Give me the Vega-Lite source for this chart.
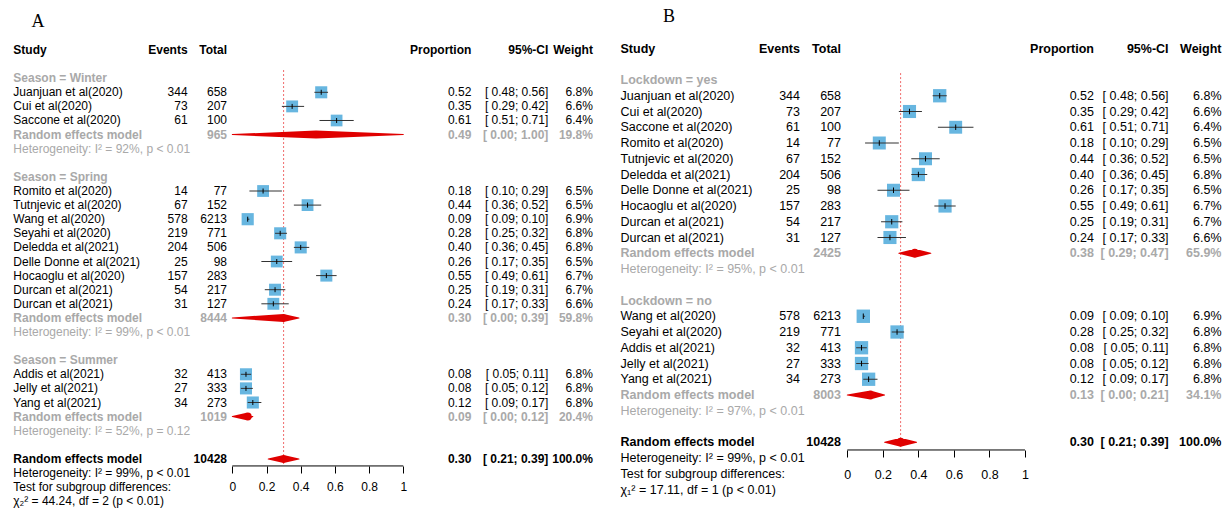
{
"$schema":"https://vega.github.io/schema/vega-lite/v6.json",
"padding":0,"spacing":4,"background":"white",
"config":{"view":{"stroke":null},"axisX":{"domain":false,"grid":false,"ticks":true,"tickSize":7,"tickColor":"#000","tickWidth":1,"labelFont":"Liberation Sans","labelColor":"#000","labelFlush":false,"labelOverlap":false}},
"resolve":{"scale":{"x":"independent","y":"independent","size":"independent","color":"independent"}},
"datasets":{
"A":[
{"row":0,"kind":"header","study":"Study","ev":"Events","tot":"Total","p":"Proportion","ci":"95%-CI","wt":"Weight"},
{"row":2,"kind":"group","study":"Season = Winter"},
{"row":3,"kind":"study","study":"Juanjuan et al(2020)","ev":"344","tot":"658","p":"0.52","ci":"[ 0.48; 0.56]","wt":"6.8%","est":0.52,"lo":0.48,"hi":0.56,"w":6.8},
{"row":4,"kind":"study","study":"Cui et al(2020)","ev":"73","tot":"207","p":"0.35","ci":"[ 0.29; 0.42]","wt":"6.6%","est":0.35,"lo":0.29,"hi":0.42,"w":6.6},
{"row":5,"kind":"study","study":"Saccone et al(2020)","ev":"61","tot":"100","p":"0.61","ci":"[ 0.51; 0.71]","wt":"6.4%","est":0.61,"lo":0.51,"hi":0.71,"w":6.4},
{"row":6,"kind":"sub","study":"Random effects model","tot":"965","p":"0.49","ci":"[ 0.00; 1.00]","wt":"19.8%","est":0.49,"lo":0.0,"hi":1.0},
{"row":7,"kind":"het","study":"Heterogeneity: I² = 92%, p < 0.01"},
{"row":9,"kind":"group","study":"Season = Spring"},
{"row":10,"kind":"study","study":"Romito et al(2020)","ev":"14","tot":"77","p":"0.18","ci":"[ 0.10; 0.29]","wt":"6.5%","est":0.18,"lo":0.10,"hi":0.29,"w":6.5},
{"row":11,"kind":"study","study":"Tutnjevic et al(2020)","ev":"67","tot":"152","p":"0.44","ci":"[ 0.36; 0.52]","wt":"6.5%","est":0.44,"lo":0.36,"hi":0.52,"w":6.5},
{"row":12,"kind":"study","study":"Wang et al(2020)","ev":"578","tot":"6213","p":"0.09","ci":"[ 0.09; 0.10]","wt":"6.9%","est":0.09,"lo":0.09,"hi":0.10,"w":6.9},
{"row":13,"kind":"study","study":"Seyahi et al(2020)","ev":"219","tot":"771","p":"0.28","ci":"[ 0.25; 0.32]","wt":"6.8%","est":0.28,"lo":0.25,"hi":0.32,"w":6.8},
{"row":14,"kind":"study","study":"Deledda et al(2021)","ev":"204","tot":"506","p":"0.40","ci":"[ 0.36; 0.45]","wt":"6.8%","est":0.40,"lo":0.36,"hi":0.45,"w":6.8},
{"row":15,"kind":"study","study":"Delle Donne et al(2021)","ev":"25","tot":"98","p":"0.26","ci":"[ 0.17; 0.35]","wt":"6.5%","est":0.26,"lo":0.17,"hi":0.35,"w":6.5},
{"row":16,"kind":"study","study":"Hocaoglu et al(2020)","ev":"157","tot":"283","p":"0.55","ci":"[ 0.49; 0.61]","wt":"6.7%","est":0.55,"lo":0.49,"hi":0.61,"w":6.7},
{"row":17,"kind":"study","study":"Durcan et al(2021)","ev":"54","tot":"217","p":"0.25","ci":"[ 0.19; 0.31]","wt":"6.7%","est":0.25,"lo":0.19,"hi":0.31,"w":6.7},
{"row":18,"kind":"study","study":"Durcan et al(2021)","ev":"31","tot":"127","p":"0.24","ci":"[ 0.17; 0.33]","wt":"6.6%","est":0.24,"lo":0.17,"hi":0.33,"w":6.6},
{"row":19,"kind":"sub","study":"Random effects model","tot":"8444","p":"0.30","ci":"[ 0.00; 0.39]","wt":"59.8%","est":0.30,"lo":0.0,"hi":0.39},
{"row":20,"kind":"het","study":"Heterogeneity: I² = 99%, p < 0.01"},
{"row":22,"kind":"group","study":"Season = Summer"},
{"row":23,"kind":"study","study":"Addis et al(2021)","ev":"32","tot":"413","p":"0.08","ci":"[ 0.05; 0.11]","wt":"6.8%","est":0.08,"lo":0.05,"hi":0.11,"w":6.8},
{"row":24,"kind":"study","study":"Jelly et al(2021)","ev":"27","tot":"333","p":"0.08","ci":"[ 0.05; 0.12]","wt":"6.8%","est":0.08,"lo":0.05,"hi":0.12,"w":6.8},
{"row":25,"kind":"study","study":"Yang et al(2021)","ev":"34","tot":"273","p":"0.12","ci":"[ 0.09; 0.17]","wt":"6.8%","est":0.12,"lo":0.09,"hi":0.17,"w":6.8},
{"row":26,"kind":"sub","study":"Random effects model","tot":"1019","p":"0.09","ci":"[ 0.00; 0.12]","wt":"20.4%","est":0.09,"lo":0.0,"hi":0.12},
{"row":27,"kind":"het","study":"Heterogeneity: I² = 52%, p = 0.12"},
{"row":29,"kind":"overall","study":"Random effects model","tot":"10428","p":"0.30","ci":"[ 0.21; 0.39]","wt":"100.0%","est":0.30,"lo":0.21,"hi":0.39},
{"row":30,"kind":"note","study":"Heterogeneity: I² = 99%, p < 0.01"},
{"row":31,"kind":"note","study":"Test for subgroup differences:"},
{"row":32,"kind":"note","study":"χ₂² = 44.24, df = 2 (p < 0.01)"}
],
"B":[
{"row":0,"kind":"header","study":"Study","ev":"Events","tot":"Total","p":"Proportion","ci":"95%-CI","wt":"Weight"},
{"row":2,"kind":"group","study":"Lockdown = yes"},
{"row":3,"kind":"study","study":"Juanjuan et al(2020)","ev":"344","tot":"658","p":"0.52","ci":"[ 0.48; 0.56]","wt":"6.8%","est":0.52,"lo":0.48,"hi":0.56,"w":6.8},
{"row":4,"kind":"study","study":"Cui et al(2020)","ev":"73","tot":"207","p":"0.35","ci":"[ 0.29; 0.42]","wt":"6.6%","est":0.35,"lo":0.29,"hi":0.42,"w":6.6},
{"row":5,"kind":"study","study":"Saccone et al(2020)","ev":"61","tot":"100","p":"0.61","ci":"[ 0.51; 0.71]","wt":"6.4%","est":0.61,"lo":0.51,"hi":0.71,"w":6.4},
{"row":6,"kind":"study","study":"Romito et al(2020)","ev":"14","tot":"77","p":"0.18","ci":"[ 0.10; 0.29]","wt":"6.5%","est":0.18,"lo":0.10,"hi":0.29,"w":6.5},
{"row":7,"kind":"study","study":"Tutnjevic et al(2020)","ev":"67","tot":"152","p":"0.44","ci":"[ 0.36; 0.52]","wt":"6.5%","est":0.44,"lo":0.36,"hi":0.52,"w":6.5},
{"row":8,"kind":"study","study":"Deledda et al(2021)","ev":"204","tot":"506","p":"0.40","ci":"[ 0.36; 0.45]","wt":"6.8%","est":0.40,"lo":0.36,"hi":0.45,"w":6.8},
{"row":9,"kind":"study","study":"Delle Donne et al(2021)","ev":"25","tot":"98","p":"0.26","ci":"[ 0.17; 0.35]","wt":"6.5%","est":0.26,"lo":0.17,"hi":0.35,"w":6.5},
{"row":10,"kind":"study","study":"Hocaoglu et al(2020)","ev":"157","tot":"283","p":"0.55","ci":"[ 0.49; 0.61]","wt":"6.7%","est":0.55,"lo":0.49,"hi":0.61,"w":6.7},
{"row":11,"kind":"study","study":"Durcan et al(2021)","ev":"54","tot":"217","p":"0.25","ci":"[ 0.19; 0.31]","wt":"6.7%","est":0.25,"lo":0.19,"hi":0.31,"w":6.7},
{"row":12,"kind":"study","study":"Durcan et al(2021)","ev":"31","tot":"127","p":"0.24","ci":"[ 0.17; 0.33]","wt":"6.6%","est":0.24,"lo":0.17,"hi":0.33,"w":6.6},
{"row":13,"kind":"sub","study":"Random effects model","tot":"2425","p":"0.38","ci":"[ 0.29; 0.47]","wt":"65.9%","est":0.38,"lo":0.29,"hi":0.47},
{"row":14,"kind":"het","study":"Heterogeneity: I² = 95%, p < 0.01"},
{"row":16,"kind":"group","study":"Lockdown = no"},
{"row":17,"kind":"study","study":"Wang et al(2020)","ev":"578","tot":"6213","p":"0.09","ci":"[ 0.09; 0.10]","wt":"6.9%","est":0.09,"lo":0.09,"hi":0.10,"w":6.9},
{"row":18,"kind":"study","study":"Seyahi et al(2020)","ev":"219","tot":"771","p":"0.28","ci":"[ 0.25; 0.32]","wt":"6.8%","est":0.28,"lo":0.25,"hi":0.32,"w":6.8},
{"row":19,"kind":"study","study":"Addis et al(2021)","ev":"32","tot":"413","p":"0.08","ci":"[ 0.05; 0.11]","wt":"6.8%","est":0.08,"lo":0.05,"hi":0.11,"w":6.8},
{"row":20,"kind":"study","study":"Jelly et al(2021)","ev":"27","tot":"333","p":"0.08","ci":"[ 0.05; 0.12]","wt":"6.8%","est":0.08,"lo":0.05,"hi":0.12,"w":6.8},
{"row":21,"kind":"study","study":"Yang et al(2021)","ev":"34","tot":"273","p":"0.12","ci":"[ 0.09; 0.17]","wt":"6.8%","est":0.12,"lo":0.09,"hi":0.17,"w":6.8},
{"row":22,"kind":"sub","study":"Random effects model","tot":"8003","p":"0.13","ci":"[ 0.00; 0.21]","wt":"34.1%","est":0.13,"lo":0.0,"hi":0.21},
{"row":23,"kind":"het","study":"Heterogeneity: I² = 97%, p < 0.01"},
{"row":25,"kind":"overall","study":"Random effects model","tot":"10428","p":"0.30","ci":"[ 0.21; 0.39]","wt":"100.0%","est":0.30,"lo":0.21,"hi":0.39},
{"row":26,"kind":"note","study":"Heterogeneity: I² = 99%, p < 0.01"},
{"row":27,"kind":"note","study":"Test for subgroup differences:"},
{"row":28,"kind":"note","study":"χ₁² = 17.11, df = 1 (p < 0.01)"}
]},
"hconcat":[
{"width":606,"height":509,"data":{"name":"A"},
"resolve":{"scale":{"size":"independent"}},
"layer":[
{"data":{"values":[{}]},"mark":{"type":"rule","color":"#f06a6a","strokeDash":[2,2],"strokeWidth":1},
 "encoding":{"x":{"datum":0.3,"type":"quantitative","scale":{"domain":[-1.3585,2.1854],"nice":false,"zero":false},"axis":{"title":null,"values":[0,0.2,0.4,0.6,0.8,1],"format":"~g","offset":-43,"labelPadding":8,"labelFontSize":12}},
  "y":{"datum":1.42,"type":"quantitative","scale":{"domain":[-3.546,32.553],"reverse":true,"nice":false,"zero":false},"axis":null},
  "y2":{"datum":29.5}}},
{"transform":[{"filter":"datum.kind=='study'"}],"mark":{"type":"point","shape":"square","filled":true,"color":"#67b6e0","opacity":1},
 "encoding":{"x":{"field":"est","type":"quantitative","scale":{"domain":[-1.3585,2.1854],"nice":false,"zero":false},"axis":{"title":null,"values":[0,0.2,0.4,0.6,0.8,1],"format":"~g","offset":-43,"labelPadding":8,"labelFontSize":12}},
  "y":{"field":"row","type":"quantitative","scale":{"domain":[-3.546,32.553],"reverse":true,"nice":false,"zero":false},"axis":null},
  "size":{"field":"w","type":"quantitative","scale":{"domain":[0,7],"range":[0,150]},"legend":null}}},
{"data":{"values":[{}]},"mark":{"type":"rule","color":"#000","strokeWidth":1},
 "encoding":{"x":{"datum":0,"type":"quantitative","scale":{"domain":[-1.3585,2.1854],"nice":false,"zero":false},"axis":{"title":null,"values":[0,0.2,0.4,0.6,0.8,1],"format":"~g","offset":-43,"labelPadding":8,"labelFontSize":12}},"x2":{"datum":1},
  "y":{"datum":29.5,"type":"quantitative","scale":{"domain":[-3.546,32.553],"reverse":true,"nice":false,"zero":false},"axis":null}}},
{"transform":[{"filter":"datum.kind=='study'"}],"mark":{"type":"rule","color":"#333","strokeWidth":1},
 "encoding":{"x":{"field":"lo","type":"quantitative","scale":{"domain":[-1.3585,2.1854],"nice":false,"zero":false},"axis":{"title":null,"values":[0,0.2,0.4,0.6,0.8,1],"format":"~g","offset":-43,"labelPadding":8,"labelFontSize":12}},"x2":{"field":"hi"},
  "y":{"field":"row","type":"quantitative","scale":{"domain":[-3.546,32.553],"reverse":true,"nice":false,"zero":false},"axis":null}}},
{"transform":[{"filter":"datum.kind=='study'"}],"mark":{"type":"point","shape":"M0,-1L0,1","filled":false,"color":"#000","strokeWidth":1,"size":25,"opacity":1},
 "encoding":{"x":{"field":"est","type":"quantitative","scale":{"domain":[-1.3585,2.1854],"nice":false,"zero":false},"axis":{"title":null,"values":[0,0.2,0.4,0.6,0.8,1],"format":"~g","offset":-43,"labelPadding":8,"labelFontSize":12}},
  "y":{"field":"row","type":"quantitative","scale":{"domain":[-3.546,32.553],"reverse":true,"nice":false,"zero":false},"axis":null}}},
{"transform":[{"filter":"datum.kind=='sub' || datum.kind=='overall'"},{"fold":["lo","est","hi"]}],"mark":{"type":"trail","color":"#e00000"},
 "encoding":{"x":{"field":"value","type":"quantitative","scale":{"domain":[-1.3585,2.1854],"nice":false,"zero":false},"axis":{"title":null,"values":[0,0.2,0.4,0.6,0.8,1],"format":"~g","offset":-43,"labelPadding":8,"labelFontSize":12}},
  "y":{"field":"row","type":"quantitative","scale":{"domain":[-3.546,32.553],"reverse":true,"nice":false,"zero":false},"axis":null},
  "size":{"field":"key","type":"ordinal","scale":{"type":"ordinal","domain":["lo","est","hi"],"range":[0,8,0]},"legend":null},
  "detail":{"field":"row","type":"nominal"}}},
{"data":{"values":[{"t":"A"}]},"mark":{"type":"text","font":"Liberation Serif","fontSize":18,"align":"center","baseline":"middle","color":"#000"},
 "encoding":{"x":{"datum":-1.137,"type":"quantitative","scale":{"domain":[-1.3585,2.1854],"nice":false,"zero":false},"axis":{"title":null,"values":[0,0.2,0.4,0.6,0.8,1],"format":"~g","offset":-43,"labelPadding":8,"labelFontSize":12}},
  "y":{"datum":-2,"type":"quantitative","scale":{"domain":[-3.546,32.553],"reverse":true,"nice":false,"zero":false},"axis":null},"text":{"field":"t"}}},
{"transform":[{"filter":"isValid(datum.study) && indexof(['header','group','sub','overall'],datum.kind)>=0"}],"mark":{"type":"text","align":"left","baseline":"middle","font":"Liberation Sans","fontSize":12,"fontWeight":"bold"},
 "encoding":{"x":{"datum":-1.2807,"type":"quantitative","scale":{"domain":[-1.3585,2.1854],"nice":false,"zero":false},"axis":{"title":null,"values":[0,0.2,0.4,0.6,0.8,1],"format":"~g","offset":-43,"labelPadding":8,"labelFontSize":12}},"y":{"field":"row","type":"quantitative","scale":{"domain":[-3.546,32.553],"reverse":true,"nice":false,"zero":false},"axis":null},"text":{"field":"study"},"color":{"field":"kind","type":"nominal","scale":{"domain":["header","group","study","sub","het","overall","note"],"range":["#000000","#a9a9a9","#000000","#a9a9a9","#a9a9a9","#000000","#000000"]},"legend":null}}},
{"transform":[{"filter":"isValid(datum.study) && indexof(['study','het','note'],datum.kind)>=0"}],"mark":{"type":"text","align":"left","baseline":"middle","font":"Liberation Sans","fontSize":12},
 "encoding":{"x":{"datum":-1.2807,"type":"quantitative","scale":{"domain":[-1.3585,2.1854],"nice":false,"zero":false},"axis":{"title":null,"values":[0,0.2,0.4,0.6,0.8,1],"format":"~g","offset":-43,"labelPadding":8,"labelFontSize":12}},"y":{"field":"row","type":"quantitative","scale":{"domain":[-3.546,32.553],"reverse":true,"nice":false,"zero":false},"axis":null},"text":{"field":"study"},"color":{"field":"kind","type":"nominal","scale":{"domain":["header","group","study","sub","het","overall","note"],"range":["#000000","#a9a9a9","#000000","#a9a9a9","#a9a9a9","#000000","#000000"]},"legend":null}}},
{"transform":[{"filter":"isValid(datum.ev) && indexof(['header','group','sub','overall'],datum.kind)>=0"}],"mark":{"type":"text","align":"right","baseline":"middle","font":"Liberation Sans","fontSize":12,"fontWeight":"bold"},
 "encoding":{"x":{"datum":-0.2614,"type":"quantitative","scale":{"domain":[-1.3585,2.1854],"nice":false,"zero":false},"axis":{"title":null,"values":[0,0.2,0.4,0.6,0.8,1],"format":"~g","offset":-43,"labelPadding":8,"labelFontSize":12}},"y":{"field":"row","type":"quantitative","scale":{"domain":[-3.546,32.553],"reverse":true,"nice":false,"zero":false},"axis":null},"text":{"field":"ev"},"color":{"field":"kind","type":"nominal","scale":{"domain":["header","group","study","sub","het","overall","note"],"range":["#000000","#a9a9a9","#000000","#a9a9a9","#a9a9a9","#000000","#000000"]},"legend":null}}},
{"transform":[{"filter":"isValid(datum.ev) && indexof(['study','het','note'],datum.kind)>=0"}],"mark":{"type":"text","align":"right","baseline":"middle","font":"Liberation Sans","fontSize":12},
 "encoding":{"x":{"datum":-0.2614,"type":"quantitative","scale":{"domain":[-1.3585,2.1854],"nice":false,"zero":false},"axis":{"title":null,"values":[0,0.2,0.4,0.6,0.8,1],"format":"~g","offset":-43,"labelPadding":8,"labelFontSize":12}},"y":{"field":"row","type":"quantitative","scale":{"domain":[-3.546,32.553],"reverse":true,"nice":false,"zero":false},"axis":null},"text":{"field":"ev"},"color":{"field":"kind","type":"nominal","scale":{"domain":["header","group","study","sub","het","overall","note"],"range":["#000000","#a9a9a9","#000000","#a9a9a9","#a9a9a9","#000000","#000000"]},"legend":null}}},
{"transform":[{"filter":"isValid(datum.tot) && indexof(['header','group','sub','overall'],datum.kind)>=0"}],"mark":{"type":"text","align":"right","baseline":"middle","font":"Liberation Sans","fontSize":12,"fontWeight":"bold"},
 "encoding":{"x":{"datum":-0.031,"type":"quantitative","scale":{"domain":[-1.3585,2.1854],"nice":false,"zero":false},"axis":{"title":null,"values":[0,0.2,0.4,0.6,0.8,1],"format":"~g","offset":-43,"labelPadding":8,"labelFontSize":12}},"y":{"field":"row","type":"quantitative","scale":{"domain":[-3.546,32.553],"reverse":true,"nice":false,"zero":false},"axis":null},"text":{"field":"tot"},"color":{"field":"kind","type":"nominal","scale":{"domain":["header","group","study","sub","het","overall","note"],"range":["#000000","#a9a9a9","#000000","#a9a9a9","#a9a9a9","#000000","#000000"]},"legend":null}}},
{"transform":[{"filter":"isValid(datum.tot) && indexof(['study','het','note'],datum.kind)>=0"}],"mark":{"type":"text","align":"right","baseline":"middle","font":"Liberation Sans","fontSize":12},
 "encoding":{"x":{"datum":-0.031,"type":"quantitative","scale":{"domain":[-1.3585,2.1854],"nice":false,"zero":false},"axis":{"title":null,"values":[0,0.2,0.4,0.6,0.8,1],"format":"~g","offset":-43,"labelPadding":8,"labelFontSize":12}},"y":{"field":"row","type":"quantitative","scale":{"domain":[-3.546,32.553],"reverse":true,"nice":false,"zero":false},"axis":null},"text":{"field":"tot"},"color":{"field":"kind","type":"nominal","scale":{"domain":["header","group","study","sub","het","overall","note"],"range":["#000000","#a9a9a9","#000000","#a9a9a9","#a9a9a9","#000000","#000000"]},"legend":null}}},
{"transform":[{"filter":"isValid(datum.p) && indexof(['header','group','sub','overall'],datum.kind)>=0"}],"mark":{"type":"text","align":"right","baseline":"middle","font":"Liberation Sans","fontSize":12,"fontWeight":"bold"},
 "encoding":{"x":{"datum":1.3977,"type":"quantitative","scale":{"domain":[-1.3585,2.1854],"nice":false,"zero":false},"axis":{"title":null,"values":[0,0.2,0.4,0.6,0.8,1],"format":"~g","offset":-43,"labelPadding":8,"labelFontSize":12}},"y":{"field":"row","type":"quantitative","scale":{"domain":[-3.546,32.553],"reverse":true,"nice":false,"zero":false},"axis":null},"text":{"field":"p"},"color":{"field":"kind","type":"nominal","scale":{"domain":["header","group","study","sub","het","overall","note"],"range":["#000000","#a9a9a9","#000000","#a9a9a9","#a9a9a9","#000000","#000000"]},"legend":null}}},
{"transform":[{"filter":"isValid(datum.p) && indexof(['study','het','note'],datum.kind)>=0"}],"mark":{"type":"text","align":"right","baseline":"middle","font":"Liberation Sans","fontSize":12},
 "encoding":{"x":{"datum":1.3977,"type":"quantitative","scale":{"domain":[-1.3585,2.1854],"nice":false,"zero":false},"axis":{"title":null,"values":[0,0.2,0.4,0.6,0.8,1],"format":"~g","offset":-43,"labelPadding":8,"labelFontSize":12}},"y":{"field":"row","type":"quantitative","scale":{"domain":[-3.546,32.553],"reverse":true,"nice":false,"zero":false},"axis":null},"text":{"field":"p"},"color":{"field":"kind","type":"nominal","scale":{"domain":["header","group","study","sub","het","overall","note"],"range":["#000000","#a9a9a9","#000000","#a9a9a9","#a9a9a9","#000000","#000000"]},"legend":null}}},
{"transform":[{"filter":"isValid(datum.ci) && indexof(['header','group','sub','overall'],datum.kind)>=0"}],"mark":{"type":"text","align":"right","baseline":"middle","font":"Liberation Sans","fontSize":12,"fontWeight":"bold"},
 "encoding":{"x":{"datum":1.848,"type":"quantitative","scale":{"domain":[-1.3585,2.1854],"nice":false,"zero":false},"axis":{"title":null,"values":[0,0.2,0.4,0.6,0.8,1],"format":"~g","offset":-43,"labelPadding":8,"labelFontSize":12}},"y":{"field":"row","type":"quantitative","scale":{"domain":[-3.546,32.553],"reverse":true,"nice":false,"zero":false},"axis":null},"text":{"field":"ci"},"color":{"field":"kind","type":"nominal","scale":{"domain":["header","group","study","sub","het","overall","note"],"range":["#000000","#a9a9a9","#000000","#a9a9a9","#a9a9a9","#000000","#000000"]},"legend":null}}},
{"transform":[{"filter":"isValid(datum.ci) && indexof(['study','het','note'],datum.kind)>=0"}],"mark":{"type":"text","align":"right","baseline":"middle","font":"Liberation Sans","fontSize":12},
 "encoding":{"x":{"datum":1.848,"type":"quantitative","scale":{"domain":[-1.3585,2.1854],"nice":false,"zero":false},"axis":{"title":null,"values":[0,0.2,0.4,0.6,0.8,1],"format":"~g","offset":-43,"labelPadding":8,"labelFontSize":12}},"y":{"field":"row","type":"quantitative","scale":{"domain":[-3.546,32.553],"reverse":true,"nice":false,"zero":false},"axis":null},"text":{"field":"ci"},"color":{"field":"kind","type":"nominal","scale":{"domain":["header","group","study","sub","het","overall","note"],"range":["#000000","#a9a9a9","#000000","#a9a9a9","#a9a9a9","#000000","#000000"]},"legend":null}}},
{"transform":[{"filter":"isValid(datum.wt) && indexof(['header','group','sub','overall'],datum.kind)>=0"}],"mark":{"type":"text","align":"right","baseline":"middle","font":"Liberation Sans","fontSize":12,"fontWeight":"bold"},
 "encoding":{"x":{"datum":2.109,"type":"quantitative","scale":{"domain":[-1.3585,2.1854],"nice":false,"zero":false},"axis":{"title":null,"values":[0,0.2,0.4,0.6,0.8,1],"format":"~g","offset":-43,"labelPadding":8,"labelFontSize":12}},"y":{"field":"row","type":"quantitative","scale":{"domain":[-3.546,32.553],"reverse":true,"nice":false,"zero":false},"axis":null},"text":{"field":"wt"},"color":{"field":"kind","type":"nominal","scale":{"domain":["header","group","study","sub","het","overall","note"],"range":["#000000","#a9a9a9","#000000","#a9a9a9","#a9a9a9","#000000","#000000"]},"legend":null}}},
{"transform":[{"filter":"isValid(datum.wt) && indexof(['study','het','note'],datum.kind)>=0"}],"mark":{"type":"text","align":"right","baseline":"middle","font":"Liberation Sans","fontSize":12},
 "encoding":{"x":{"datum":2.109,"type":"quantitative","scale":{"domain":[-1.3585,2.1854],"nice":false,"zero":false},"axis":{"title":null,"values":[0,0.2,0.4,0.6,0.8,1],"format":"~g","offset":-43,"labelPadding":8,"labelFontSize":12}},"y":{"field":"row","type":"quantitative","scale":{"domain":[-3.546,32.553],"reverse":true,"nice":false,"zero":false},"axis":null},"text":{"field":"wt"},"color":{"field":"kind","type":"nominal","scale":{"domain":["header","group","study","sub","het","overall","note"],"range":["#000000","#a9a9a9","#000000","#a9a9a9","#a9a9a9","#000000","#000000"]},"legend":null}}}
]},
{"width":615,"height":509,"data":{"name":"B"},
"resolve":{"scale":{"size":"independent"}},
"layer":[
{"data":{"values":[{}]},"mark":{"type":"rule","color":"#f06a6a","strokeDash":[2,2],"strokeWidth":1},
 "encoding":{"x":{"datum":0.3,"type":"quantitative","scale":{"domain":[-1.3354,2.1255],"nice":false,"zero":false},"axis":{"title":null,"values":[0,0.2,0.4,0.6,0.8,1],"format":"~g","offset":-59,"labelPadding":11,"labelFontSize":12.5}},
  "y":{"datum":1.56,"type":"quantitative","scale":{"domain":[-3.0794,29.238],"reverse":true,"nice":false,"zero":false},"axis":null},
  "y2":{"datum":25.49}}},
{"transform":[{"filter":"datum.kind=='study'"}],"mark":{"type":"point","shape":"square","filled":true,"color":"#67b6e0","opacity":1},
 "encoding":{"x":{"field":"est","type":"quantitative","scale":{"domain":[-1.3354,2.1255],"nice":false,"zero":false},"axis":{"title":null,"values":[0,0.2,0.4,0.6,0.8,1],"format":"~g","offset":-59,"labelPadding":11,"labelFontSize":12.5}},
  "y":{"field":"row","type":"quantitative","scale":{"domain":[-3.0794,29.238],"reverse":true,"nice":false,"zero":false},"axis":null},
  "size":{"field":"w","type":"quantitative","scale":{"domain":[0,7],"range":[0,182]},"legend":null}}},
{"data":{"values":[{}]},"mark":{"type":"rule","color":"#000","strokeWidth":1},
 "encoding":{"x":{"datum":0,"type":"quantitative","scale":{"domain":[-1.3354,2.1255],"nice":false,"zero":false},"axis":{"title":null,"values":[0,0.2,0.4,0.6,0.8,1],"format":"~g","offset":-59,"labelPadding":11,"labelFontSize":12.5}},"x2":{"datum":1},
  "y":{"datum":25.49,"type":"quantitative","scale":{"domain":[-3.0794,29.238],"reverse":true,"nice":false,"zero":false},"axis":null}}},
{"transform":[{"filter":"datum.kind=='study'"}],"mark":{"type":"rule","color":"#333","strokeWidth":1},
 "encoding":{"x":{"field":"lo","type":"quantitative","scale":{"domain":[-1.3354,2.1255],"nice":false,"zero":false},"axis":{"title":null,"values":[0,0.2,0.4,0.6,0.8,1],"format":"~g","offset":-59,"labelPadding":11,"labelFontSize":12.5}},"x2":{"field":"hi"},
  "y":{"field":"row","type":"quantitative","scale":{"domain":[-3.0794,29.238],"reverse":true,"nice":false,"zero":false},"axis":null}}},
{"transform":[{"filter":"datum.kind=='study'"}],"mark":{"type":"point","shape":"M0,-1L0,1","filled":false,"color":"#000","strokeWidth":1,"size":30,"opacity":1},
 "encoding":{"x":{"field":"est","type":"quantitative","scale":{"domain":[-1.3354,2.1255],"nice":false,"zero":false},"axis":{"title":null,"values":[0,0.2,0.4,0.6,0.8,1],"format":"~g","offset":-59,"labelPadding":11,"labelFontSize":12.5}},
  "y":{"field":"row","type":"quantitative","scale":{"domain":[-3.0794,29.238],"reverse":true,"nice":false,"zero":false},"axis":null}}},
{"transform":[{"filter":"datum.kind=='sub' || datum.kind=='overall'"},{"fold":["lo","est","hi"]}],"mark":{"type":"trail","color":"#e00000"},
 "encoding":{"x":{"field":"value","type":"quantitative","scale":{"domain":[-1.3354,2.1255],"nice":false,"zero":false},"axis":{"title":null,"values":[0,0.2,0.4,0.6,0.8,1],"format":"~g","offset":-59,"labelPadding":11,"labelFontSize":12.5}},
  "y":{"field":"row","type":"quantitative","scale":{"domain":[-3.0794,29.238],"reverse":true,"nice":false,"zero":false},"axis":null},
  "size":{"field":"key","type":"ordinal","scale":{"type":"ordinal","domain":["lo","est","hi"],"range":[0,9,0]},"legend":null},
  "detail":{"field":"row","type":"nominal"}}},
{"data":{"values":[{"t":"B"}]},"mark":{"type":"text","font":"Liberation Serif","fontSize":18,"align":"center","baseline":"middle","color":"#000"},
 "encoding":{"x":{"datum":-1.0034,"type":"quantitative","scale":{"domain":[-1.3354,2.1255],"nice":false,"zero":false},"axis":{"title":null,"values":[0,0.2,0.4,0.6,0.8,1],"format":"~g","offset":-59,"labelPadding":11,"labelFontSize":12.5}},
  "y":{"datum":-2,"type":"quantitative","scale":{"domain":[-3.0794,29.238],"reverse":true,"nice":false,"zero":false},"axis":null},"text":{"field":"t"}}},
{"transform":[{"filter":"isValid(datum.study) && indexof(['header','group','sub','overall'],datum.kind)>=0"}],"mark":{"type":"text","align":"left","baseline":"middle","font":"Liberation Sans","fontSize":12.5,"fontWeight":"bold"},
 "encoding":{"x":{"datum":-1.2763,"type":"quantitative","scale":{"domain":[-1.3354,2.1255],"nice":false,"zero":false},"axis":{"title":null,"values":[0,0.2,0.4,0.6,0.8,1],"format":"~g","offset":-59,"labelPadding":11,"labelFontSize":12.5}},"y":{"field":"row","type":"quantitative","scale":{"domain":[-3.0794,29.238],"reverse":true,"nice":false,"zero":false},"axis":null},"text":{"field":"study"},"color":{"field":"kind","type":"nominal","scale":{"domain":["header","group","study","sub","het","overall","note"],"range":["#000000","#a9a9a9","#000000","#a9a9a9","#a9a9a9","#000000","#000000"]},"legend":null}}},
{"transform":[{"filter":"isValid(datum.study) && indexof(['study','het','note'],datum.kind)>=0"}],"mark":{"type":"text","align":"left","baseline":"middle","font":"Liberation Sans","fontSize":12.5},
 "encoding":{"x":{"datum":-1.2763,"type":"quantitative","scale":{"domain":[-1.3354,2.1255],"nice":false,"zero":false},"axis":{"title":null,"values":[0,0.2,0.4,0.6,0.8,1],"format":"~g","offset":-59,"labelPadding":11,"labelFontSize":12.5}},"y":{"field":"row","type":"quantitative","scale":{"domain":[-3.0794,29.238],"reverse":true,"nice":false,"zero":false},"axis":null},"text":{"field":"study"},"color":{"field":"kind","type":"nominal","scale":{"domain":["header","group","study","sub","het","overall","note"],"range":["#000000","#a9a9a9","#000000","#a9a9a9","#a9a9a9","#000000","#000000"]},"legend":null}}},
{"transform":[{"filter":"isValid(datum.ev) && indexof(['header','group','sub','overall'],datum.kind)>=0"}],"mark":{"type":"text","align":"right","baseline":"middle","font":"Liberation Sans","fontSize":12.5,"fontWeight":"bold"},
 "encoding":{"x":{"datum":-0.2662,"type":"quantitative","scale":{"domain":[-1.3354,2.1255],"nice":false,"zero":false},"axis":{"title":null,"values":[0,0.2,0.4,0.6,0.8,1],"format":"~g","offset":-59,"labelPadding":11,"labelFontSize":12.5}},"y":{"field":"row","type":"quantitative","scale":{"domain":[-3.0794,29.238],"reverse":true,"nice":false,"zero":false},"axis":null},"text":{"field":"ev"},"color":{"field":"kind","type":"nominal","scale":{"domain":["header","group","study","sub","het","overall","note"],"range":["#000000","#a9a9a9","#000000","#a9a9a9","#a9a9a9","#000000","#000000"]},"legend":null}}},
{"transform":[{"filter":"isValid(datum.ev) && indexof(['study','het','note'],datum.kind)>=0"}],"mark":{"type":"text","align":"right","baseline":"middle","font":"Liberation Sans","fontSize":12.5},
 "encoding":{"x":{"datum":-0.2662,"type":"quantitative","scale":{"domain":[-1.3354,2.1255],"nice":false,"zero":false},"axis":{"title":null,"values":[0,0.2,0.4,0.6,0.8,1],"format":"~g","offset":-59,"labelPadding":11,"labelFontSize":12.5}},"y":{"field":"row","type":"quantitative","scale":{"domain":[-3.0794,29.238],"reverse":true,"nice":false,"zero":false},"axis":null},"text":{"field":"ev"},"color":{"field":"kind","type":"nominal","scale":{"domain":["header","group","study","sub","het","overall","note"],"range":["#000000","#a9a9a9","#000000","#a9a9a9","#a9a9a9","#000000","#000000"]},"legend":null}}},
{"transform":[{"filter":"isValid(datum.tot) && indexof(['header','group','sub','overall'],datum.kind)>=0"}],"mark":{"type":"text","align":"right","baseline":"middle","font":"Liberation Sans","fontSize":12.5,"fontWeight":"bold"},
 "encoding":{"x":{"datum":-0.0355,"type":"quantitative","scale":{"domain":[-1.3354,2.1255],"nice":false,"zero":false},"axis":{"title":null,"values":[0,0.2,0.4,0.6,0.8,1],"format":"~g","offset":-59,"labelPadding":11,"labelFontSize":12.5}},"y":{"field":"row","type":"quantitative","scale":{"domain":[-3.0794,29.238],"reverse":true,"nice":false,"zero":false},"axis":null},"text":{"field":"tot"},"color":{"field":"kind","type":"nominal","scale":{"domain":["header","group","study","sub","het","overall","note"],"range":["#000000","#a9a9a9","#000000","#a9a9a9","#a9a9a9","#000000","#000000"]},"legend":null}}},
{"transform":[{"filter":"isValid(datum.tot) && indexof(['study','het','note'],datum.kind)>=0"}],"mark":{"type":"text","align":"right","baseline":"middle","font":"Liberation Sans","fontSize":12.5},
 "encoding":{"x":{"datum":-0.0355,"type":"quantitative","scale":{"domain":[-1.3354,2.1255],"nice":false,"zero":false},"axis":{"title":null,"values":[0,0.2,0.4,0.6,0.8,1],"format":"~g","offset":-59,"labelPadding":11,"labelFontSize":12.5}},"y":{"field":"row","type":"quantitative","scale":{"domain":[-3.0794,29.238],"reverse":true,"nice":false,"zero":false},"axis":null},"text":{"field":"tot"},"color":{"field":"kind","type":"nominal","scale":{"domain":["header","group","study","sub","het","overall","note"],"range":["#000000","#a9a9a9","#000000","#a9a9a9","#a9a9a9","#000000","#000000"]},"legend":null}}},
{"transform":[{"filter":"isValid(datum.p) && indexof(['header','group','sub','overall'],datum.kind)>=0"}],"mark":{"type":"text","align":"right","baseline":"middle","font":"Liberation Sans","fontSize":12.5,"fontWeight":"bold"},
 "encoding":{"x":{"datum":1.3883,"type":"quantitative","scale":{"domain":[-1.3354,2.1255],"nice":false,"zero":false},"axis":{"title":null,"values":[0,0.2,0.4,0.6,0.8,1],"format":"~g","offset":-59,"labelPadding":11,"labelFontSize":12.5}},"y":{"field":"row","type":"quantitative","scale":{"domain":[-3.0794,29.238],"reverse":true,"nice":false,"zero":false},"axis":null},"text":{"field":"p"},"color":{"field":"kind","type":"nominal","scale":{"domain":["header","group","study","sub","het","overall","note"],"range":["#000000","#a9a9a9","#000000","#a9a9a9","#a9a9a9","#000000","#000000"]},"legend":null}}},
{"transform":[{"filter":"isValid(datum.p) && indexof(['study','het','note'],datum.kind)>=0"}],"mark":{"type":"text","align":"right","baseline":"middle","font":"Liberation Sans","fontSize":12.5},
 "encoding":{"x":{"datum":1.3883,"type":"quantitative","scale":{"domain":[-1.3354,2.1255],"nice":false,"zero":false},"axis":{"title":null,"values":[0,0.2,0.4,0.6,0.8,1],"format":"~g","offset":-59,"labelPadding":11,"labelFontSize":12.5}},"y":{"field":"row","type":"quantitative","scale":{"domain":[-3.0794,29.238],"reverse":true,"nice":false,"zero":false},"axis":null},"text":{"field":"p"},"color":{"field":"kind","type":"nominal","scale":{"domain":["header","group","study","sub","het","overall","note"],"range":["#000000","#a9a9a9","#000000","#a9a9a9","#a9a9a9","#000000","#000000"]},"legend":null}}},
{"transform":[{"filter":"isValid(datum.ci) && indexof(['header','group','sub','overall'],datum.kind)>=0"}],"mark":{"type":"text","align":"right","baseline":"middle","font":"Liberation Sans","fontSize":12.5,"fontWeight":"bold"},
 "encoding":{"x":{"datum":1.8081,"type":"quantitative","scale":{"domain":[-1.3354,2.1255],"nice":false,"zero":false},"axis":{"title":null,"values":[0,0.2,0.4,0.6,0.8,1],"format":"~g","offset":-59,"labelPadding":11,"labelFontSize":12.5}},"y":{"field":"row","type":"quantitative","scale":{"domain":[-3.0794,29.238],"reverse":true,"nice":false,"zero":false},"axis":null},"text":{"field":"ci"},"color":{"field":"kind","type":"nominal","scale":{"domain":["header","group","study","sub","het","overall","note"],"range":["#000000","#a9a9a9","#000000","#a9a9a9","#a9a9a9","#000000","#000000"]},"legend":null}}},
{"transform":[{"filter":"isValid(datum.ci) && indexof(['study','het','note'],datum.kind)>=0"}],"mark":{"type":"text","align":"right","baseline":"middle","font":"Liberation Sans","fontSize":12.5},
 "encoding":{"x":{"datum":1.8081,"type":"quantitative","scale":{"domain":[-1.3354,2.1255],"nice":false,"zero":false},"axis":{"title":null,"values":[0,0.2,0.4,0.6,0.8,1],"format":"~g","offset":-59,"labelPadding":11,"labelFontSize":12.5}},"y":{"field":"row","type":"quantitative","scale":{"domain":[-3.0794,29.238],"reverse":true,"nice":false,"zero":false},"axis":null},"text":{"field":"ci"},"color":{"field":"kind","type":"nominal","scale":{"domain":["header","group","study","sub","het","overall","note"],"range":["#000000","#a9a9a9","#000000","#a9a9a9","#a9a9a9","#000000","#000000"]},"legend":null}}},
{"transform":[{"filter":"isValid(datum.wt) && indexof(['header','group','sub','overall'],datum.kind)>=0"}],"mark":{"type":"text","align":"right","baseline":"middle","font":"Liberation Sans","fontSize":12.5,"fontWeight":"bold"},
 "encoding":{"x":{"datum":2.1058,"type":"quantitative","scale":{"domain":[-1.3354,2.1255],"nice":false,"zero":false},"axis":{"title":null,"values":[0,0.2,0.4,0.6,0.8,1],"format":"~g","offset":-59,"labelPadding":11,"labelFontSize":12.5}},"y":{"field":"row","type":"quantitative","scale":{"domain":[-3.0794,29.238],"reverse":true,"nice":false,"zero":false},"axis":null},"text":{"field":"wt"},"color":{"field":"kind","type":"nominal","scale":{"domain":["header","group","study","sub","het","overall","note"],"range":["#000000","#a9a9a9","#000000","#a9a9a9","#a9a9a9","#000000","#000000"]},"legend":null}}},
{"transform":[{"filter":"isValid(datum.wt) && indexof(['study','het','note'],datum.kind)>=0"}],"mark":{"type":"text","align":"right","baseline":"middle","font":"Liberation Sans","fontSize":12.5},
 "encoding":{"x":{"datum":2.1058,"type":"quantitative","scale":{"domain":[-1.3354,2.1255],"nice":false,"zero":false},"axis":{"title":null,"values":[0,0.2,0.4,0.6,0.8,1],"format":"~g","offset":-59,"labelPadding":11,"labelFontSize":12.5}},"y":{"field":"row","type":"quantitative","scale":{"domain":[-3.0794,29.238],"reverse":true,"nice":false,"zero":false},"axis":null},"text":{"field":"wt"},"color":{"field":"kind","type":"nominal","scale":{"domain":["header","group","study","sub","het","overall","note"],"range":["#000000","#a9a9a9","#000000","#a9a9a9","#a9a9a9","#000000","#000000"]},"legend":null}}}
]}
]}
